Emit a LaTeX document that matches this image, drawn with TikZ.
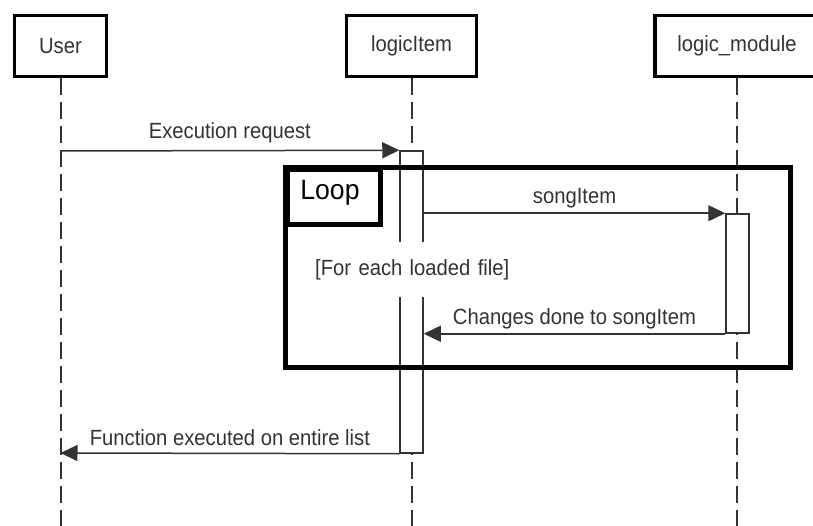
\documentclass[tikz,border=0pt]{standalone}
\usepackage{fontspec}
\setmainfont{Liberation Sans}
\newfontfamily\msgfont{Liberation Sans}[FakeStretch=0.92]
\newfontfamily\loopfont{Liberation Sans}[FakeStretch=0.95]
\usetikzlibrary{arrows.meta}
\definecolor{ink}{HTML}{333333}
\tikzset{
  actor/.style={draw=black, line width=3.5pt, fill=white, minimum height=61pt,
    text=ink, font=\msgfont\fontsize{22}{26}\selectfont, inner sep=0pt},
  lifeline/.style={draw=ink, line width=2pt, dash pattern=on 17pt off 7pt},
  actbox/.style={draw=ink, line width=1.5pt, fill=white, minimum width=23pt, inner sep=0pt},
  msg/.style={draw=ink, line width=1.5pt, -{Triangle[length=17pt,width=16pt]}},
  msgtext/.style={text=ink, font=\msgfont\fontsize{22}{26}\selectfont, inner sep=0pt},
  frame/.style={draw=black, line width=5pt},
}
\begin{document}
\begin{tikzpicture}[x=1pt,y=-1pt]
\useasboundingbox (0,0) rectangle (813,526);
\clip (0,0) rectangle (813,526);
% lifeline ends
\coordinate (ub) at (60.5,526);
\coordinate (lb) at (411.5,526);
\coordinate (mb) at (737,526);
% actors
\node[actor, minimum width=92pt] (user) at (60.5,46) {User};
\node[actor, minimum width=130pt] (item) at (411.5,46) {logicItem};
\node[actor, minimum width=180pt] (module) at (745,46) {};
\node[text=ink, font=\msgfont\fontsize{22}{26}\selectfont, inner sep=0pt] (modlabel) at (737,46) {logic\_module};
\draw[lifeline] (user.south) -- (ub);
\draw[lifeline] (item.south) -- (lb);
\draw[lifeline] (modlabel |- module.south) -- (mb);
% activations
\node[actbox, minimum height=302pt] (act1) at (411.5,302) {};
\node[actbox, minimum height=119pt] (act2) at (737.5,273.5) {};
% loop frame
\node[draw=none, minimum width=505pt, minimum height=200pt, inner sep=0pt] (loopbox) at (538,267.5) {};
\draw[frame] (loopbox.north west) rectangle (loopbox.south east);
\node[frame, fill=white, anchor=north west, minimum width=92.5pt, minimum height=54.5pt,
  inner sep=0pt] (looptab) at (loopbox.north west) {};
\node[font=\loopfont\fontsize{28}{32}\selectfont, text=black, inner sep=0pt] (looplabel) at (330,193) {Loop};
\node[msgtext, fill=white, inner sep=0pt, minimum height=55pt, anchor=west, text width=207pt] (cond) at (314,269.5) {\hspace*{1pt}[For each loaded file]};
% messages
\coordinate (u1) at (60.5,151);
\coordinate (u2) at (60.5,453);
\draw[msg] (u1) -- node[msgtext, yshift=18pt] (m1) {Execution request} (act1.north west);
\draw[msg] (act1.east |- act2.north) -- node[msgtext, yshift=15pt] (m2) {songItem} (act2.north west);
\draw[msg] (act2.south west) -- node[msgtext, yshift=15pt] (m3) {Changes done to songItem} (act1.east |- act2.south);
\draw[msg] (act1.south west) -- node[msgtext, yshift=16pt] (m4) {Function executed on entire list} (u2);
\end{tikzpicture}
\end{document}
